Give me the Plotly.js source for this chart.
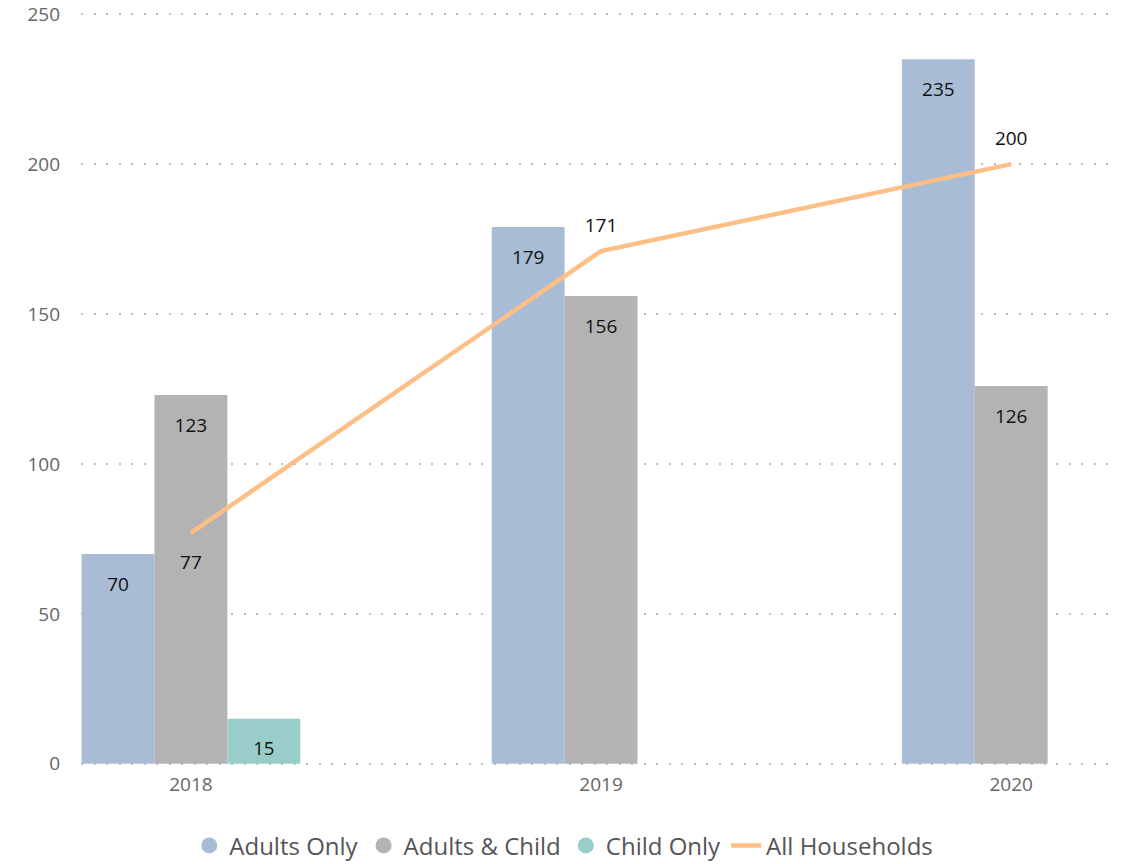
<!DOCTYPE html>
<html><head><meta charset="utf-8">
<script src="https://cdn.plot.ly/plotly-3.0.1.min.js"></script>
<style>html,body{margin:0;padding:0;background:#fff}</style>
</head><body><div id="chart" style="width:1132px;height:864px"></div>
<script>
const years = ['2018', '2019', '2020'];
const adultsOnly = [70, 179, 235];
const adultsChild = [123, 156, 126];
const childOnly = [15, null, null];
const allHouseholds = [77, 171, 200];
const lineLabelPos = ['bottom center', 'top center', 'top center'];
const lineLabelPad = [34, 21, 21];
const seriesNames = ['Adults Only', 'Adults & Child', 'Child Only', 'All Households'];
const colors = ['#A9BCD5', '#B3B3B3', '#99CDCA', '#FDBF86'];

const font = '"Open Sans", "Noto Sans", sans-serif';
function lbl(v){ return v.map(x => x == null ? '' : '<span style="font-size:8px">\u00a0</span><br>' + x); }
function bar(name, vals, color){
  return {type:'bar', name:name, x:years, y:vals, marker:{color:color, line:{width:0}},
    text:lbl(vals), textposition:'inside', insidetextanchor:'end', textangle:0,
    textfont:{color:'#111', size:19, family:font}, showlegend:false, hoverinfo:'x+y'};
}
function legendDot(name, color){
  return {type:'scatter', mode:'markers', name:name, x:[null], y:[null],
    marker:{color:color, size:21, symbol:'circle'}, showlegend:true};
}
const traces = [
  bar(seriesNames[0], adultsOnly, colors[0]),
  bar(seriesNames[1], adultsChild, colors[1]),
  bar(seriesNames[2], childOnly, colors[2]),
  legendDot(seriesNames[0], colors[0]),
  legendDot(seriesNames[1], colors[1]),
  legendDot(seriesNames[2], colors[2]),
  {type:'scatter', mode:'lines+markers+text', name:seriesNames[3], x:years, y:allHouseholds,
   line:{color:colors[3], width:4.5},
   marker:{size:lineLabelPad, color:'rgba(0,0,0,0)', line:{width:0, color:'rgba(0,0,0,0)'}},
   text:allHouseholds.map(String), textposition:lineLabelPos,
   textfont:{color:'#111', size:19, family:font}}
];
const layout = {
  width:1132, height:864, margin:{l:81, r:15, t:13, b:99},
  paper_bgcolor:'#fff', plot_bgcolor:'#fff',
  barmode:'group', bargap:0.467, bargroupgap:0, uniformtext:{mode:false},
  font:{family:font, color:'#666'},
  xaxis:{type:'category', range:[-0.268, 2.258], showgrid:false, zeroline:false,
    showline:false, ticks:'', tickfont:{size:19, color:'#666'}, ticklabelstandoff:6, fixedrange:true},
  yaxis:{range:[-0.4, 250.4], tickvals:[0,50,100,150,200,250], showgrid:true, gridcolor:'#bdbdbd', gridwidth:1.6,
    griddash:'2px,10.5px', zeroline:false, showline:false, ticks:'',
    tickfont:{size:19, color:'#666'}, ticklabelstandoff:20},
  legend:{orientation:'h', x:0.466, xanchor:'center', yref:'container', y:0.021, yanchor:'middle',
    font:{size:24, color:'#555'}, itemwidth:30, tracegroupgap:0},
  showlegend:true
};
Plotly.newPlot('chart', traces, layout, {displayModeBar:false, staticPlot:true});
</script></body></html>
